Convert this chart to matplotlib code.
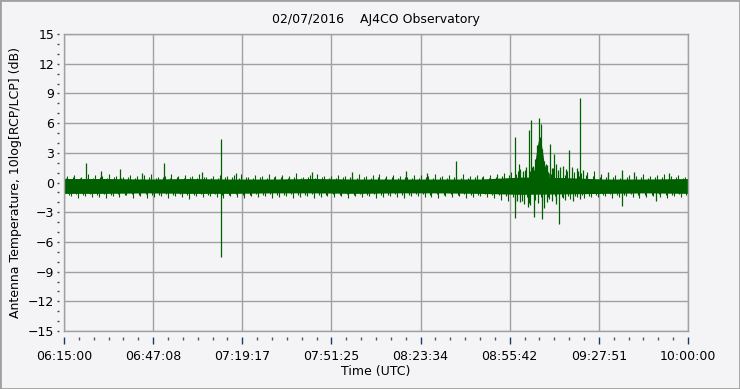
import numpy as np
import matplotlib
matplotlib.use("Agg")
import matplotlib.pyplot as plt
from matplotlib.patches import Rectangle

# time axis in minutes after 06:15:00 UTC
tick_labels = ["06:15:00", "06:47:08", "07:19:17", "07:51:25",
               "08:23:34", "08:55:42", "09:27:51", "10:00:00"]

# solid core of the noise band, sampled every 15 min
core_t = [0, 15, 30, 45, 60, 75, 90, 105, 120, 135, 150, 165, 180, 195, 210, 225]
core_hi = [0.4, 0.4, 0.35, 0.4, 0.35, 0.35, 0.4, 0.35, 0.35, 0.35, 0.35, 0.55, 0.5, 0.35, 0.35, 0.4]
core_lo = [-1.1, -1.1, -1.05, -1.1, -1.1, -1.05, -1.05, -1.1, -1.05, -1.05, -1.1, -1.2, -1.15, -1.1, -1.05, -1.1]

# fringe hairs every 2.5 min (tip values), outer layer
hair_up = [0.7, 0.8, 0.6, 0.9, 0.75, 0.65, 0.85, 0.7, 0.6, 0.8, 0.7,
           0.75, 0.9, 0.6, 0.7, 0.85, 0.65, 0.8, 0.7, 0.9, 0.6,
           0.7, 0.8, 0.65, 0.75, 0.9, 0.6, 0.8, 0.7, 0.85, 0.65,
           0.8, 0.7, 0.95, 0.6, 0.75, 0.85, 0.7, 0.65, 0.8, 0.7,
           0.6, 0.85, 0.7, 0.75, 0.9, 0.65, 0.8, 0.7, 0.6, 0.75,
           0.8, 0.65, 0.9, 0.7, 0.75, 0.6, 0.85, 0.7, 0.8, 0.65,
           0.75, 0.9, 1.0, 1.1, 1.2, 1.3, 1.6, 1.8, 1.9, 1.5,
           1.3, 1.2, 1.1, 1.0, 1.1, 1.2, 0.9, 0.8, 0.75, 0.9,
           0.8, 0.7, 0.85, 0.65, 0.8, 0.9, 0.7, 0.75, 0.6, 0.7]
hair_dn = [-1.5, -1.4, -1.6, -1.35, -1.5, -1.45, -1.6, -1.4, -1.5, -1.3, -1.55,
           -1.4, -1.6, -1.45, -1.35, -1.55, -1.4, -1.5, -1.65, -1.4, -1.5,
           -1.35, -1.5, -1.6, -1.4, -1.45, -1.55, -1.35, -1.5, -1.4, -1.6,
           -1.45, -1.35, -1.55, -1.5, -1.4, -1.6, -1.45, -1.35, -1.5, -1.4,
           -1.55, -1.4, -1.5, -1.35, -1.6, -1.45, -1.4, -1.5, -1.55, -1.4,
           -1.35, -1.5, -1.45, -1.6, -1.4, -1.5, -1.35, -1.55, -1.45, -1.4,
           -1.5, -1.6, -1.8, -1.9, -2.0, -1.9, -2.1, -1.8, -1.9, -1.7,
           -1.8, -1.6, -1.7, -1.5, -1.6, -1.45, -1.5, -1.4, -1.55, -1.45,
           -1.4, -1.5, -1.6, -1.45, -1.35, -1.5, -1.55, -1.4, -1.5, -1.45]

# inner layer of shorter hairs, between the outer ones
hair_up2 = [0.5, 0.55, 0.45, 0.6, 0.5, 0.55, 0.45, 0.6, 0.5, 0.55, 0.5,
            0.45, 0.6, 0.5, 0.55, 0.45, 0.6, 0.5, 0.55, 0.5, 0.6,
            0.5, 0.45, 0.55, 0.6, 0.5, 0.55, 0.45, 0.6, 0.5, 0.55,
            0.6, 0.5, 0.55, 0.45, 0.6, 0.5, 0.55, 0.5, 0.45, 0.6,
            0.55, 0.5, 0.6, 0.45, 0.55, 0.5, 0.6, 0.5, 0.55, 0.45,
            0.5, 0.6, 0.45, 0.55, 0.5, 0.6, 0.5, 0.45, 0.55, 0.6,
            0.5, 0.6, 0.7, 0.8, 0.9, 1.0, 1.2, 1.1, 1.0, 0.9,
            0.9, 0.8, 0.85, 0.7, 0.8, 0.7, 0.6, 0.55, 0.6, 0.5,
            0.55, 0.5, 0.6, 0.45, 0.55, 0.6, 0.5, 0.55, 0.45, 0.5]
hair_dn2 = [-1.25, -1.2, -1.3, -1.15, -1.25, -1.2, -1.3, -1.2, -1.25, -1.15, -1.3,
            -1.2, -1.3, -1.25, -1.15, -1.3, -1.2, -1.25, -1.3, -1.2, -1.25,
            -1.15, -1.25, -1.3, -1.2, -1.25, -1.3, -1.15, -1.25, -1.2, -1.3,
            -1.25, -1.15, -1.3, -1.25, -1.2, -1.3, -1.25, -1.15, -1.25, -1.2,
            -1.3, -1.2, -1.25, -1.15, -1.3, -1.25, -1.2, -1.25, -1.3, -1.2,
            -1.15, -1.25, -1.2, -1.3, -1.2, -1.25, -1.15, -1.3, -1.25, -1.2,
            -1.25, -1.3, -1.4, -1.5, -1.5, -1.45, -1.6, -1.5, -1.5, -1.4,
            -1.45, -1.35, -1.4, -1.3, -1.35, -1.25, -1.3, -1.2, -1.3, -1.25,
            -1.2, -1.25, -1.3, -1.25, -1.15, -1.25, -1.3, -1.2, -1.25, -1.2]

# broad hump of the burst
burst_t = [168.5, 169.5, 170.0, 170.6, 171.1, 171.6, 172.1, 172.6, 173.1, 173.8, 175.0]
burst_hi = [0.8, 1.3, 2.4, 3.6, 4.3, 4.4, 3.9, 3.0, 2.0, 1.4, 0.9]

# isolated spikes
spike_up_t = [7.9, 13.3, 20.3, 36.2, 49.8, 56.7, 89.4, 123.3, 141.2, 162.7, 163.9, 167.8,
              168.5, 169.0, 171.2, 172.1, 175.1, 176.8, 179.0, 182.2, 184.9, 186.2, 201.2, 205.6,
              164.5, 165.5, 166.5, 170.0, 170.6, 171.6, 172.4, 173.0, 174.0, 175.8, 177.5,
              178.2, 180.0, 181.0, 183.2, 185.5, 187.0, 28.0, 62.0, 104.0, 131.0, 196.0, 218.0]
spike_up_v = [2.0, 1.2, 1.4, 2.0, 1.1, 4.4, 1.1, 1.2, 2.2, 4.6, 1.9, 5.3,
              6.3, 1.7, 6.5, 5.9, 3.9, 2.9, 1.6, 3.3, 1.5, 8.5, 1.3, 1.05,
              1.4, 1.2, 1.6, 2.4, 3.8, 4.6, 3.4, 2.2, 1.8, 1.5, 1.9,
              1.3, 1.7, 1.4, 1.6, 1.2, 1.3, 1.0, 1.0, 1.05, 1.0, 1.05, 1.0]
spike_dn_t = [56.7, 162.7, 164.4, 167.4, 169.6, 172.5, 174.2, 178.6, 201.3, 213.4,
              163.2, 165.8, 168.2, 170.8, 173.2, 176.0, 177.3, 180.5, 183.5, 186.0]
spike_dn_v = [-7.5, -3.6, -2.0, -2.5, -3.45, -3.7, -2.0, -4.2, -2.4, -1.9,
              -1.9, -2.2, -2.3, -2.1, -2.6, -1.9, -2.2, -1.8, -1.9, -1.7]

green = "#006000"
bg = "#f4f4f6"
grid_c = "#a0a0a0"

fig = plt.figure(figsize=(7.4, 3.89), dpi=100, facecolor=bg)
ax = fig.add_axes([64 / 740, 1 - 331 / 389, 624 / 740, 297 / 389], facecolor=bg)

hair_t = np.arange(len(hair_up)) * 2.5
ax.fill_between(core_t, core_lo, core_hi, color=green, lw=0)
ax.vlines(hair_t + 1.25, -0.3, hair_up, color=green, lw=0.8)
ax.vlines(hair_t, hair_dn, -0.3, color=green, lw=0.8)
ax.vlines(hair_t + 0.6, -0.3, hair_up2, color=green, lw=0.8)
ax.vlines(hair_t + 1.9, hair_dn2, -0.3, color=green, lw=0.8)
ax.fill_between(burst_t, 0, burst_hi, color=green, lw=0)
ax.vlines(spike_up_t, -0.3, spike_up_v, color=green, lw=0.9)
ax.vlines(spike_dn_t, spike_dn_v, -0.3, color=green, lw=0.9)

ax.set_xlim(0, 225)
ax.set_ylim(-15, 15)
major_x = np.linspace(0, 225, 8)
ax.set_xticks(major_x)
ax.set_yticks(np.arange(-15, 16, 3))
ax.grid(True, color=grid_c, lw=1)
ax.set_axisbelow(True)
ax.tick_params(bottom=False, left=False, labelbottom=False, labelleft=False)
for s in ax.spines.values():
    s.set_color(grid_c)
    s.set_linewidth(1)

# tick rows set slightly apart from the frame
secx = ax.secondary_xaxis(-6 / 297)
secx.spines["bottom"].set_visible(False)
secx.set_xticks(major_x, tick_labels)
secx.set_xticks(np.linspace(0, 225, 43), minor=True)
secx.tick_params(which="major", length=5, width=1, color="#1a3a6a", labelsize=9, pad=4)
secx.tick_params(which="minor", length=2, width=1, color="#555555")
secx.set_xlabel("Time (UTC)", fontsize=9, labelpad=2)

secy = ax.secondary_yaxis(-5 / 624)
secy.spines["left"].set_visible(False)
secy.set_yticks(np.arange(-15, 16, 3))
secy.set_yticks(np.arange(-15, 16, 1), minor=True)
secy.tick_params(which="major", length=1.5, width=1, color="#444444", labelsize=9, pad=2)
secy.tick_params(which="minor", length=1.5, width=1, color="#444444")
secy.set_ylabel("Antenna Temperature, 10log[RCP/LCP] (dB)", fontsize=9, labelpad=4)

ax.set_title("02/07/2016    AJ4CO Observatory", fontsize=9, pad=8)

fig.patches.append(Rectangle((0, 0), 1, 1, transform=fig.transFigure,
                             fill=False, edgecolor="#a0a0a0", lw=2))

fig.savefig("out.png", dpi=100, facecolor=bg)
